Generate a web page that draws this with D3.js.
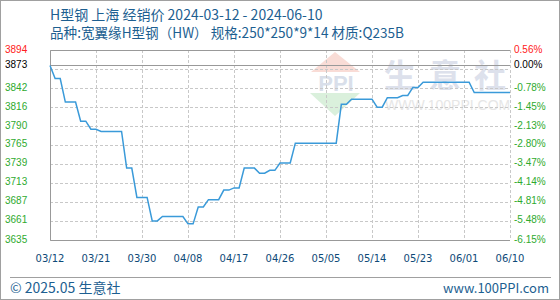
<!DOCTYPE html>
<html>
<head>
<meta charset="utf-8">
<script src="https://cdn.jsdelivr.net/npm/d3@7"></script>
<style>
  body { margin: 0; background: #fff; }
  svg { display: block; }
</style>
</head>
<body>
<div id="chart"></div>
<script>
// H型钢 上海 经销价, one value per day from 2024-03-12 to 2024-06-10
var startDate = '2024-03-12';
var endDate = '2024-06-10';
var prices = [
    3873, 3855, 3855, 3823, 3823, 3823, 3797, 3797, 3786, 3786,
    3783, 3783, 3783, 3783, 3783, 3733, 3733, 3693, 3693, 3693,
    3661, 3661, 3667, 3667, 3667, 3667, 3667, 3657, 3657, 3680,
    3680, 3690, 3690, 3690, 3703, 3703, 3706, 3706, 3733, 3733,
    3733, 3726, 3726, 3730, 3730, 3740, 3740, 3740, 3767, 3767,
    3767, 3767, 3767, 3767, 3767, 3767, 3767, 3820, 3820, 3827,
    3827, 3827, 3827, 3827, 3816, 3816, 3829, 3829, 3829, 3832,
    3832, 3843, 3843, 3850, 3850, 3850, 3850, 3850, 3850, 3850,
    3850, 3850, 3850, 3836, 3836, 3836, 3836, 3836, 3836, 3836,
    3836
];
var basePrice = 3873;
var xLabels = ['03/12', '03/21', '03/30', '04/08', '04/17', '04/26', '05/05', '05/14', '05/23', '06/01', '06/10'];
var leftLabels = [3894, 3873, 3842, 3816, 3790, 3765, 3739, 3713, 3687, 3661, 3635];
var rightLabels = ['0.56%', '0.00%', '-0.78%', '-1.45%', '-2.13%', '-2.80%', '-3.47%', '-4.14%', '-4.81%', '-5.48%', '-6.15%'];

function drawChart() {
    var W = 560, H = 300;
    var pL = 50, pR = 510, pT = 50, pB = 240;

    var parse = d3.timeParse('%Y-%m-%d');
    var t0 = parse(startDate), t1 = parse(endDate);
    var dates = d3.timeDay.range(t0, d3.timeDay.offset(t1, 1));
    var data = prices.map(function(v, i) { return { date: dates[i], value: v }; });

    var x = d3.scaleTime().domain([t0, t1]).range([pL, pR]);
    var y = d3.scaleLinear().domain([3635, 3894]).range([pB, pT]);
    // tick dates every 9 days, matched to the label list
    var tickDates = xLabels.map(function(d, i) { return d3.timeDay.offset(t0, i * 9); });

    var svg = d3.select('#chart').append('svg')
        .attr('width', W)
        .attr('height', H);

    svg.append('rect')
        .attr('x', 0.5).attr('y', 0.5)
        .attr('width', W - 1).attr('height', H - 1)
        .attr('fill', '#fff')
        .attr('stroke', '#a0a0a0');

    // watermark
    var wm = svg.append('g');
    wm.append('path')
        .attr('d', 'M335,52 L360,72 L311,72 Z')
        .attr('fill', '#f9dcd6');
    wm.append('text')
        .attr('x', 336).attr('y', 91)
        .attr('text-anchor', 'middle')
        .attr('font-family', 'Liberation Sans')
        .attr('font-weight', 'bold')
        .attr('font-size', 22)
        .attr('fill', '#d9dfea')
        .text('PPI');
    wm.append('path')
        .attr('d', 'M310,93 L360,93 L335,116 Z')
        .attr('fill', '#daf0dc');
    wm.append('text')
        .attr('x', 384).attr('y', 87)
        .attr('font-family', 'Noto Sans CJK SC')
        .attr('font-weight', 'bold')
        .attr('font-size', 32)
        .attr('textLength', 122)
        .attr('lengthAdjust', 'spacing')
        .attr('fill', '#dde1ec')
        .text('生意社');
    wm.append('text')
        .attr('x', 385).attr('y', 110)
        .attr('font-family', 'Liberation Sans')
        .attr('font-size', 14)
        .attr('fill', '#e6e6e6')
        .text('WWW.100PPI.COM');

    // grid
    var grid = svg.append('g')
        .attr('stroke', '#c8c8c8')
        .attr('stroke-dasharray', '3,2');
    grid.selectAll('.hg')
        .data(d3.range(11))
        .enter()
        .append('line')
        .attr('x1', pL).attr('x2', pR)
        .attr('y1', function(d) { return Math.round(pT + d * (pB - pT) / 10) + 0.5; })
        .attr('y2', function(d) { return Math.round(pT + d * (pB - pT) / 10) + 0.5; });
    grid.selectAll('.vg')
        .data(tickDates)
        .enter()
        .append('line')
        .attr('y1', pT).attr('y2', pB)
        .attr('x1', function(d) { return Math.round(x(d)) + 0.5; })
        .attr('x2', function(d) { return Math.round(x(d)) + 0.5; });

    // frame and base line
    var frame = svg.append('g').attr('stroke', '#999').attr('fill', 'none');
    frame.append('path')
        .attr('d', 'M' + pR + ',' + (pT + 0.5) + 'H' + (pL + 0.5) + 'V' + (pB + 0.5) + 'H' + pR);
    frame.append('line')
        .attr('x1', pL).attr('x2', pR)
        .attr('y1', Math.round(y(basePrice)) + 0.5)
        .attr('y2', Math.round(y(basePrice)) + 0.5);

    // price line
    var line = d3.line()
        .x(function(d) { return x(d.date); })
        .y(function(d) { return y(d.value); });

    svg.append('path')
        .datum(data)
        .attr('d', line)
        .attr('fill', 'none')
        .attr('stroke', '#3a9ad9')
        .attr('stroke-width', 1.5);

    // axis labels
    function labelColor(i) {
        return i === 0 ? '#ff2020' : (i === 1 ? '#000' : '#2eaa2e');
    }

    svg.append('g').selectAll('text')
        .data(leftLabels)
        .enter()
        .append('text')
        .attr('x', 5)
        .attr('y', function(d) { return y(d) + 2.5; })
        .attr('font-family', 'Liberation Sans')
        .attr('font-size', 10)
        .attr('fill', function(d, i) { return labelColor(i); })
        .text(function(d) { return d; });

    svg.append('g').selectAll('text')
        .data(rightLabels)
        .enter()
        .append('text')
        .attr('x', 514)
        .attr('y', function(d, i) { return y(leftLabels[i]) + 2.5; })
        .attr('font-family', 'Liberation Sans')
        .attr('font-size', 10)
        .attr('fill', function(d, i) { return labelColor(i); })
        .text(function(d) { return d; });

    svg.append('g').selectAll('text')
        .data(xLabels)
        .enter()
        .append('text')
        .attr('x', function(d, i) { return x(tickDates[i]); })
        .attr('y', 262)
        .attr('text-anchor', 'middle')
        .attr('font-family', 'DejaVu Sans')
        .attr('font-size', 10)
        .attr('fill', '#0e4a78')
        .text(function(d) { return d; });

    // titles
    svg.append('text')
        .attr('x', 50).attr('y', 20)
        .attr('font-family', 'Noto Sans CJK SC')
        .attr('font-size', 14)
        .attr('fill', '#1d5f91')
        .text('H型钢 上海 经销价 2024-03-12 - 2024-06-10');
    svg.append('text')
        .attr('x', 50).attr('y', 38)
        .attr('font-family', 'Noto Sans CJK SC')
        .attr('font-size', 14)
        .attr('textLength', 354)
        .attr('lengthAdjust', 'spacingAndGlyphs')
        .attr('fill', '#1d5f91')
        .text('品种:宽翼缘H型钢（HW） 规格:250*250*9*14 材质:Q235B');

    // footer
    svg.append('line')
        .attr('x1', 10).attr('x2', 551)
        .attr('y1', 277.5).attr('y2', 277.5)
        .attr('stroke', '#a0a0a0');
    svg.append('text')
        .attr('x', 10).attr('y', 293)
        .attr('font-family', 'Noto Sans CJK SC')
        .attr('font-size', 14)
        .attr('fill', '#1d5f91')
        .text('© 2025.05 生意社');
    svg.append('text')
        .attr('x', 549).attr('y', 293)
        .attr('text-anchor', 'end')
        .attr('font-family', 'Noto Sans CJK SC')
        .attr('font-size', 13)
        .attr('fill', '#1d5f91')
        .text('www.100PPI.com');
}

drawChart();
</script>
</body>
</html>
